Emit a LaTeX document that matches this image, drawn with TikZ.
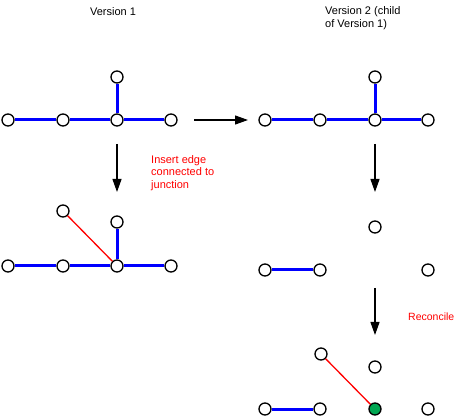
\documentclass[tikz,border=0pt]{standalone}
\usepackage{fontspec}
\setmainfont{Liberation Sans}
\usetikzlibrary{arrows.meta}
\definecolor{okgreen}{HTML}{00A651}
\begin{document}
\begin{tikzpicture}[x=1pt,y=-1pt,>={Triangle[length=13pt,width=9pt]},
vtx/.style={circle,draw,fill=white,line width=1.3pt,inner sep=0pt,minimum size=12pt},
tree/.style={blue,line width=3pt},
new/.style={red,line width=1.3pt},
step arrow/.style={->,line width=1.2pt},
lbl/.style={font=\fontsize{11}{12.5}\selectfont,align=left,anchor=west,inner sep=0pt}]
\useasboundingbox (0,0) rectangle (456,417);
% titles
\node[lbl,anchor=center] (t1) at (113,12) {Version 1};
\node[lbl] (t2) at (325,18) {Version 2 (child\\of Version 1)};
% version 1
\node[vtx] (a1) at (8,120) {};
\node[vtx] (a2) at (63,120) {};
\node[vtx] (a3) at (117,120) {};
\node[vtx] (a4) at (171,120) {};
\node[vtx] (a5) at (117,77) {};
\draw[tree] (a1)--(a2) (a2)--(a3) (a3)--(a4) (a3)--(a5);
% version 2
\node[vtx] (b1) at (265,120) {};
\node[vtx] (b2) at (320,120) {};
\node[vtx] (b3) at (375,120) {};
\node[vtx] (b4) at (428,120) {};
\node[vtx] (b5) at (375,77) {};
\draw[tree] (b1)--(b2) (b2)--(b3) (b3)--(b4) (b3)--(b5);
% edit on version 1
\node[vtx] (c1) at (8,266) {};
\node[vtx] (c2) at (63,266) {};
\node[vtx] (c3) at (117,266) {};
\node[vtx] (c4) at (171,266) {};
\node[vtx] (c5) at (117,222) {};
\node[vtx] (c6) at (63,211) {};
\draw[tree] (c1)--(c2) (c2)--(c3) (c3)--(c4) (c3)--(c5);
\draw[new] (c6)--(c3);
% edit on version 2
\node[vtx] (d1) at (265,270) {};
\node[vtx] (d2) at (320,270) {};
\node[vtx] (d3) at (375,227) {};
\node[vtx] (d4) at (428,270) {};
\draw[tree] (d1)--(d2);
% reconciled
\node[vtx] (e1) at (265,409) {};
\node[vtx] (e2) at (320,409) {};
\node[vtx,fill=okgreen] (e3) at (375,409) {};
\node[vtx] (e4) at (428,409) {};
\node[vtx] (e5) at (375,367) {};
\node[vtx] (e6) at (321,354) {};
\draw[tree] (e1)--(e2);
\draw[new] (e6)--(e3);
% steps
\coordinate (h1) at (194,120);
\coordinate (h2) at (248,120);
\coordinate (v1) at (117,144);
\coordinate (v2) at (117,192);
\coordinate (w1) at (375,144);
\coordinate (w2) at (375,192);
\coordinate (u1) at (375,288);
\coordinate (u2) at (375,335);
\draw[step arrow] (h1)--(h2);
\draw[step arrow] (v1)--(v2);
\draw[step arrow] (w1)--(w2);
\draw[step arrow] (u1)--(u2);
\node[lbl,red] (m1) at (151,173) {Insert edge\\connected to\\junction};
\node[lbl,red,font=\fontsize{10.5}{12}\selectfont] (m2) at (408,317) {Reconcile};
\end{tikzpicture}
\end{document}
